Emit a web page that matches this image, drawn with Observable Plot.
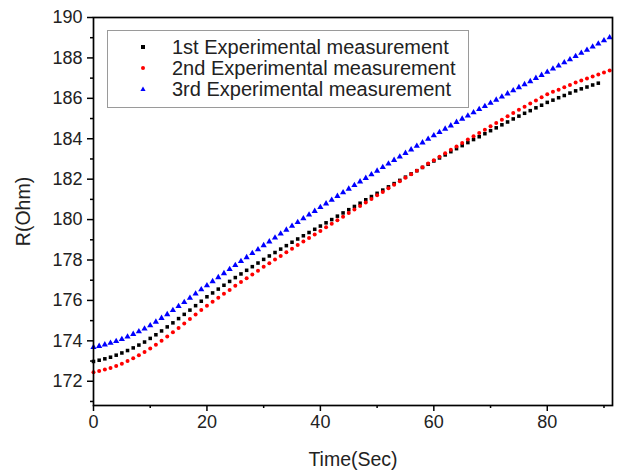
<!DOCTYPE html>
<html><head><meta charset="utf-8">
<script src="https://cdn.jsdelivr.net/npm/d3@7"></script>
<script src="https://cdn.jsdelivr.net/npm/@observablehq/plot@0.6"></script>
<style>
body{margin:0;background:#fff;}
#wrap{position:relative;width:626px;height:473px;font-family:"Liberation Sans",Arial,sans-serif;}
#legend{position:absolute;left:107px;top:30px;width:362px;height:78px;border:1px solid #9a9a9a;box-sizing:border-box;background:#fff;}
.row{position:absolute;left:0;height:22px;display:flex;align-items:center;font-size:20px;color:#222;white-space:nowrap;}
.row svg{margin-left:30px;margin-right:24px;}
</style>
</head><body>
<div id="wrap"><div id="legend"></div></div>
<script>
// Series labels
const seriesNames = ["1st Experimental measurement", "2nd Experimental measurement", "3rd Experimental measurement"];
const seriesColors = ["#000000", "#ff0000", "#0000ff"];
const seriesSymbols = ["square", "circle", "triangle"];

// R(Ohm) values, one per second starting at t = 0
const run1 = [172.98,173.04,173.11,173.19,173.29,173.40,173.52,173.65,173.79,173.94,174.12,
  174.30,174.49,174.69,174.89,175.10,175.31,175.52,175.74,175.96,176.18,
  176.37,176.56,176.75,176.94,177.13,177.31,177.49,177.67,177.85,178.03,
  178.20,178.37,178.54,178.71,178.88,179.04,179.20,179.36,179.52,179.68,
  179.84,180.00,180.17,180.33,180.49,180.65,180.81,180.98,181.14,181.30,
  181.46,181.62,181.78,181.94,182.10,182.26,182.42,182.58,182.74,182.90,
  183.05,183.20,183.36,183.51,183.66,183.81,183.96,184.10,184.25,184.40,
  184.54,184.69,184.83,184.98,185.12,185.26,185.39,185.53,185.66,185.80,
  185.91,186.03,186.14,186.26,186.37,186.47,186.56,186.66,186.75];
const run2 = [172.45,172.51,172.58,172.66,172.76,172.87,173.00,173.14,173.29,173.45,173.62,
  173.81,174.01,174.21,174.42,174.64,174.86,175.08,175.30,175.52,175.74,
  175.94,176.13,176.33,176.52,176.72,176.91,177.10,177.28,177.47,177.66,
  177.84,178.02,178.20,178.38,178.56,178.74,178.91,179.09,179.26,179.44,
  179.62,179.79,179.97,180.14,180.32,180.50,180.67,180.85,181.02,181.20,
  181.37,181.55,181.72,181.90,182.07,182.24,182.42,182.59,182.77,182.94,
  183.11,183.28,183.45,183.62,183.79,183.96,184.12,184.29,184.45,184.62,
  184.78,184.94,185.11,185.27,185.43,185.58,185.74,185.89,186.05,186.20,
  186.32,186.43,186.55,186.66,186.78,186.88,186.98,187.08,187.18,187.28,187.38];
const run3 = [173.68,173.74,173.81,173.89,173.98,174.08,174.20,174.33,174.46,174.60,174.76,
  174.94,175.12,175.31,175.51,175.71,175.91,176.12,176.33,176.54,176.74,
  176.94,177.14,177.34,177.54,177.74,177.94,178.13,178.33,178.52,178.72,
  178.91,179.10,179.30,179.49,179.68,179.87,180.05,180.24,180.42,180.61,
  180.79,180.97,181.16,181.34,181.52,181.70,181.88,182.05,182.23,182.41,
  182.59,182.76,182.94,183.11,183.29,183.46,183.64,183.81,183.99,184.16,
  184.32,184.49,184.65,184.82,184.98,185.14,185.30,185.46,185.61,185.77,
  185.92,186.08,186.23,186.39,186.54,186.69,186.84,187.00,187.15,187.30,
  187.46,187.61,187.77,187.92,188.08,188.24,188.39,188.55,188.70,188.86,189.01];

// Tick values
const xMajor = [0, 20, 40, 60, 80];
const xMinor = [10, 30, 50, 70, 90];
const yMajor = [172, 174, 176, 178, 180, 182, 184, 186, 188, 190];
const yMinor = [171, 173, 175, 177, 179, 181, 183, 185, 187, 189];

const runs = [run1, run2, run3];
const data = runs.flatMap((vals, s) => vals.map((v, i) => ({t: i, r: v, s})));

const font = "Liberation Sans, Arial, sans-serif";
const plot = Plot.plot({
  width: 626, height: 473,
  marginLeft: 93, marginRight: 14, marginTop: 17, marginBottom: 68,
  x: {domain: [0, 91.5]},
  y: {domain: [170.8, 190]},
  style: {fontFamily: font, fontSize: "18px", color: "#222", background: "#fff"},
  marks: [
    Plot.axisX({ticks: xMajor, tickSize: 6, tickPadding: 4, tickFormat: d => String(d), fontSize: 18,
      label: null, stroke: "#000", strokeWidth: 1.5}),
    Plot.axisX({ticks: xMinor, tickSize: 3, tickFormat: () => "", label: null, stroke: "#000", strokeWidth: 1.5}),
    Plot.axisY({ticks: yMajor, tickSize: 6, tickPadding: 5, tickFormat: d => String(d), fontSize: 18,
      label: null, stroke: "#000", strokeWidth: 1.5}),
    Plot.axisY({ticks: yMinor, tickSize: 3, tickFormat: () => "", label: null, stroke: "#000", strokeWidth: 1.5}),
    Plot.axisX({ticks: [], label: "Time(Sec)", labelAnchor: "center", labelArrow: "none", labelOffset: 60, fontSize: 19.5}),
    Plot.axisY({ticks: [], label: "R(Ohm)", labelAnchor: "center", labelArrow: "none", labelOffset: 77, fontSize: 19.5}),
    ...[0, 1, 2].map(s => Plot.dot(data.filter(d => d.s === s), {
      x: "t", y: "r", symbol: seriesSymbols[s], fill: seriesColors[s], stroke: "none",
      r: s === 0 ? 2.0 : s === 1 ? 2.0 : 2.3
    })),
    Plot.frame({stroke: "#000", strokeWidth: 1.7})
  ]
});
document.getElementById("wrap").prepend(plot);

// Legend (HTML overlay)
const legend = document.getElementById("legend");
seriesNames.forEach((name, i) => {
  const row = document.createElement("div");
  row.className = "row";
  row.style.top = (5 + i * 21) + "px";
  let shape;
  if (seriesSymbols[i] === "square") shape = `<rect x="3" y="3" width="4" height="4" fill="${seriesColors[i]}"/>`;
  else if (seriesSymbols[i] === "circle") shape = `<circle cx="5" cy="5" r="2" fill="${seriesColors[i]}"/>`;
  else shape = `<path d="M5,2.5 L7.6,7 L2.4,7 Z" fill="${seriesColors[i]}"/>`;
  row.innerHTML = `<svg width="10" height="10">${shape}</svg><span>${name}</span>`;
  legend.appendChild(row);
});
</script>
</body></html>
